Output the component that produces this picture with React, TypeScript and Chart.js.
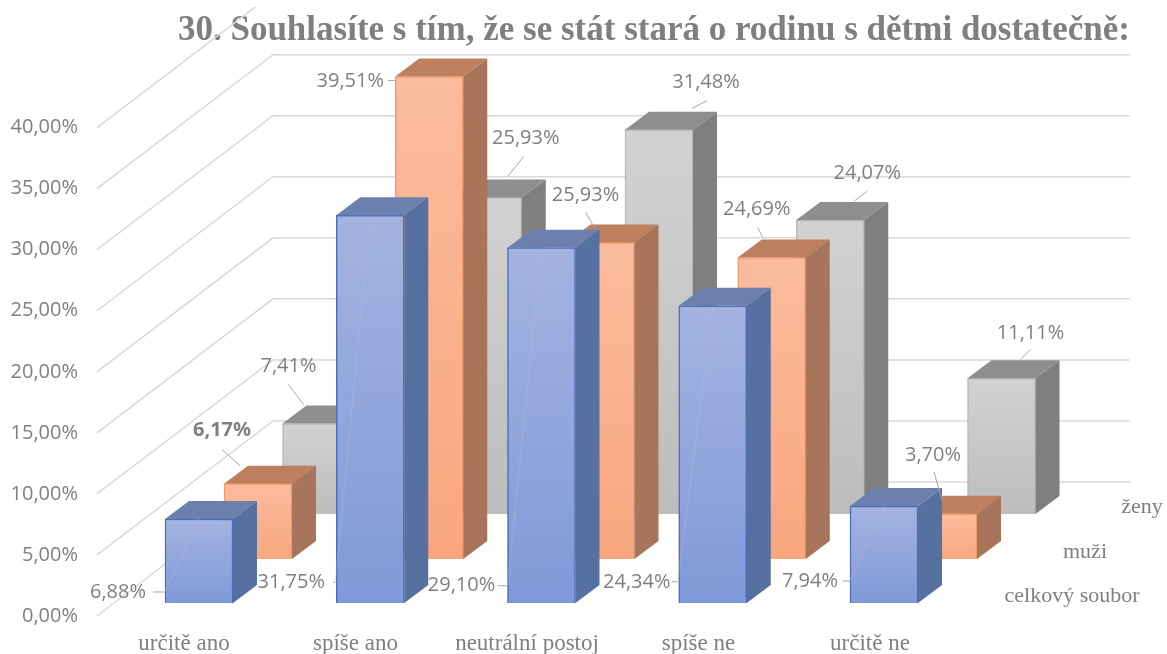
import React, { useEffect, useRef } from "react";
import { Chart, registerables } from "chart.js";

Chart.register(...registerables);

const titleText = "30. Souhlasíte s tím, že se stát stará o rodinu s dětmi dostatečně:";
const categories = ["určitě ano", "spíše ano", "neutrální postoj", "spíše ne", "určitě ne"];
const seriesNames = ["celkový soubor", "muži", "ženy"];
const celkovySoubor = [6.88, 31.75, 29.1, 24.34, 7.94];
const muzi = [6.17, 39.51, 25.93, 24.69, 3.7];
const zeny = [7.41, 25.93, 31.48, 24.07, 11.11];
const yTicks = [0, 5, 10, 15, 20, 25, 30, 35, 40];

// ---- layout (pixels) ----
const W = 1167;
const H = 654;
const AREA = { left: 97, right: 1130, top: 55, bottom: 630 };
const PX_PER_PERCENT = 12.21;
const PX_PER_CATEGORY = 171.25;
const BAR_W = 68;
const DEPTH_X = 24;
const DEPTH_Y = 18;
const WALL_X = 273;
const SERIES_STYLE = [
  { x0: 199, floor: 603, top: "#a4b3e0", bottom: "#7f9ad9", border: "#4a6db5", side: "#56709f", lid: "#6c80ad" },
  { x0: 258, floor: 559, top: "#fcbb9e", bottom: "#f8a77e", border: "#f39a66", side: "#a8745a", lid: "#bd7f5e" },
  { x0: 316.5, floor: 514, top: "#d2d2d2", bottom: "#bdbdbd", border: "#b8b8b8", side: "#7f7f7f", lid: "#8e8e8e" },
];
const SERIES_LABEL_POS = [
  [1072, 596],
  [1085, 552],
  [1142, 507],
];
// label offset from the bar's top centre: text x, y, leader x1, y1, x2, y2
const LABEL_OFFSETS = [
  [
    [-81, 73, -46, 73, -34, 73],
    [-79, 367, -37, 367, -35, 367],
    [-80, 338, -44, 338, -34, 338],
    [-76, 276, -41, 276, -35, 276],
    [-74, 75, -41, 75, -34, 75],
  ],
  [
    [-36, -53, -36, -34, -18, -18],
    [-79, 5, -41, 4, -34, 4],
    [-15, -47, -15, -30, -5, -13],
    [-15, -48, -14, -30, -9, -20],
    [-10, -59, -9, -42, -1, -14],
  ],
  [
    [-28, -57, -28, -39, -13, -19],
    [38, -59, 36, -41, 20, -21],
    [47, -47, 48, -29, 33, -21],
    [37, -47, 37, -29, 24, -19],
    [29, -45, 29, -29, 19, -19],
  ],
];

const GREY = "#7f7f7f";
const SERIF = "'Liberation Serif'";
const SANS = "'Open Sans'";
const SANS_SIZE = 20;
const SERIF_SIZE = 23;

const yRange = (px0: number) => ({
  min: (px0 - AREA.bottom) / PX_PER_PERCENT,
  max: (px0 - AREA.top) / PX_PER_PERCENT,
});
const xRange = (px0: number, step = PX_PER_CATEGORY) => ({
  min: (AREA.left - px0) / step,
  max: (AREA.right - px0) / step,
});
const fmt = (v: number) => v.toFixed(2).replace(".", ",") + "%";
const poly = (ctx: CanvasRenderingContext2D, pts: number[][], color: string) => {
  ctx.beginPath();
  pts.forEach((p, i) => (i ? ctx.lineTo(p[0], p[1]) : ctx.moveTo(p[0], p[1])));
  ctx.closePath();
  ctx.fillStyle = color;
  ctx.fill();
};

const facesPlugin = {
  id: "faces3d",
  beforeDatasetsDraw(chart: any) {
    const { ctx, scales } = chart;
    ctx.save();
    ctx.beginPath();
    ctx.rect(0, 7, W, H);
    ctx.clip();
    ctx.strokeStyle = "#d9d9d9";
    ctx.lineWidth = 1.5;
    yTicks.forEach((v) => {
      ctx.beginPath();
      ctx.moveTo(AREA.left, scales.y.getPixelForValue(v));
      ctx.lineTo(WALL_X, scales.yWall.getPixelForValue(v));
      ctx.lineTo(AREA.right, scales.yWall.getPixelForValue(v));
      ctx.stroke();
    });
    ctx.restore();
  },
  afterDatasetDraw(chart: any, args: any) {
    const { ctx } = chart;
    const s = SERIES_STYLE[args.index];
    ctx.save();
    args.meta.data.forEach((bar: any) => {
      const { x, y, base } = bar.getProps(["x", "y", "base"], true);
      const l = x - BAR_W / 2;
      const r = x + BAR_W / 2;
      poly(ctx, [[l, y], [r, y], [r + DEPTH_X, y - DEPTH_Y], [l + DEPTH_X, y - DEPTH_Y]], s.lid);
      poly(ctx, [[r, y], [r + DEPTH_X, y - DEPTH_Y], [r + DEPTH_X, base - DEPTH_Y], [r, base]], s.side);
    });
    ctx.restore();
  },
  afterDatasetsDraw(chart: any) {
    const { ctx } = chart;
    ctx.save();
    ctx.textAlign = "center";
    ctx.textBaseline = "middle";
    chart.data.datasets.forEach((ds: any, si: number) => {
      chart.getDatasetMeta(si).data.forEach((bar: any, i: number) => {
        const { x, y } = bar.getProps(["x", "y"], true);
        const o = LABEL_OFFSETS[si][i];
        if (si === 0) {
          // faint leader running through the front face towards its label
          ctx.strokeStyle = "rgba(190,190,190,0.3)";
          ctx.lineWidth = 1.5;
          ctx.beginPath();
          ctx.moveTo(x, y);
          ctx.lineTo(x + o[4], y + o[5]);
          ctx.stroke();
        }
        ctx.strokeStyle = "#a6a6a6";
        ctx.lineWidth = 1;
        ctx.beginPath();
        ctx.moveTo(x + o[2], y + o[3]);
        ctx.lineTo(x + o[4], y + o[5]);
        ctx.stroke();
        ctx.fillStyle = GREY;
        const bold = si === 1 && i === 0;
        ctx.font = `${bold ? "bold " : ""}${SANS_SIZE}px ${SANS}`;
        ctx.fillText(fmt(ds.data[i].y), x + o[0], y + o[1]);
      });
    });
    ctx.font = `${SERIF_SIZE - 1}px ${SERIF}`;
    seriesNames.forEach((n, i) => ctx.fillText(n, SERIES_LABEL_POS[i][0], SERIES_LABEL_POS[i][1]));
    ctx.restore();
  },
};

const makeDataset = (label: string, values: number[], si: number) => {
  const s = SERIES_STYLE[si];
  return {
    label,
    xAxisID: ["xFront", "xMid", "xBack"][si],
    yAxisID: ["yFront", "yMid", "yBack"][si],
    data: values.map((y, x) => ({ x, y })),
    barThickness: BAR_W,
    grouped: false,
    borderWidth: 1.5,
    borderColor: s.border,
    backgroundColor: (c: any) => {
      const v = values[c.dataIndex];
      if (v === undefined) return s.bottom;
      const g = c.chart.ctx.createLinearGradient(0, s.floor - v * PX_PER_PERCENT, 0, s.floor);
      g.addColorStop(0, s.top);
      g.addColorStop(1, s.bottom);
      return g;
    },
  };
};

const hidden = (axis: string, range: { min: number; max: number }) => ({
  type: "linear",
  axis,
  display: false,
  offset: false,
  ...range,
});

export default function App() {
  const ref = useRef<HTMLCanvasElement>(null);
  useEffect(() => {
    document.body.style.margin = "0";
    document.body.style.background = "#ffffff";
    const chart = new Chart(ref.current!, {
      type: "bar",
      data: {
        datasets: [
          makeDataset(seriesNames[0], celkovySoubor, 0),
          makeDataset(seriesNames[1], muzi, 1),
          makeDataset(seriesNames[2], zeny, 2),
        ] as any,
      },
      plugins: [facesPlugin as any],
      options: {
        responsive: false,
        animation: false,
        layout: { padding: { right: W - AREA.right, left: 0, top: 0, bottom: 0 } },
        plugins: {
          legend: { display: false },
          tooltip: { enabled: false },
          title: {
            display: true,
            text: titleText,
            align: "end",
            fullSize: false,
            color: GREY,
            font: { family: SERIF, size: 35, weight: "bold", lineHeight: 1.2 },
            padding: { top: 10, bottom: 3 },
          },
        },
        scales: {
          x: {
            type: "linear",
            position: "bottom",
            offset: false,
            ...xRange(184, 171.5),
            afterBuildTicks: (s: any) => {
              s.ticks = categories.map((_, value) => ({ value }));
            },
            afterFit: (s: any) => {
              s.height = H - AREA.bottom;
              s.paddingLeft = 0;
              s.paddingRight = 0;
            },
            grid: { display: false, drawTicks: false, offset: false },
            border: { display: false },
            ticks: {
              autoSkip: false,
              maxRotation: 0,
              padding: 0,
              color: GREY,
              font: { family: SERIF, size: SERIF_SIZE },
              callback: (v: any) => categories[v],
            },
          },
          y: {
            type: "linear",
            position: "left",
            ...yRange(616),
            afterBuildTicks: (s: any) => {
              s.ticks = yTicks.map((value) => ({ value }));
            },
            afterFit: (s: any) => {
              s.width = AREA.left;
              s.paddingTop = 0;
              s.paddingBottom = 0;
            },
            grid: { display: false, drawTicks: false },
            border: { display: false },
            ticks: {
              padding: 19,
              color: GREY,
              font: { family: SANS, size: SANS_SIZE },
              callback: (v: any) => Number(v).toFixed(2).replace(".", ",") + "%",
            },
          },
          yWall: hidden("y", yRange(482)),
          yFront: hidden("y", yRange(SERIES_STYLE[0].floor)),
          yMid: hidden("y", yRange(SERIES_STYLE[1].floor)),
          yBack: hidden("y", yRange(SERIES_STYLE[2].floor)),
          xFront: hidden("x", xRange(SERIES_STYLE[0].x0)),
          xMid: hidden("x", xRange(SERIES_STYLE[1].x0)),
          xBack: hidden("x", xRange(SERIES_STYLE[2].x0)),
        } as any,
      },
    });
    return () => chart.destroy();
  }, []);
  return <canvas ref={ref} width={W} height={H} style={{ display: "block", width: W, height: H, filter: "blur(0.6px)" }} />;
}
